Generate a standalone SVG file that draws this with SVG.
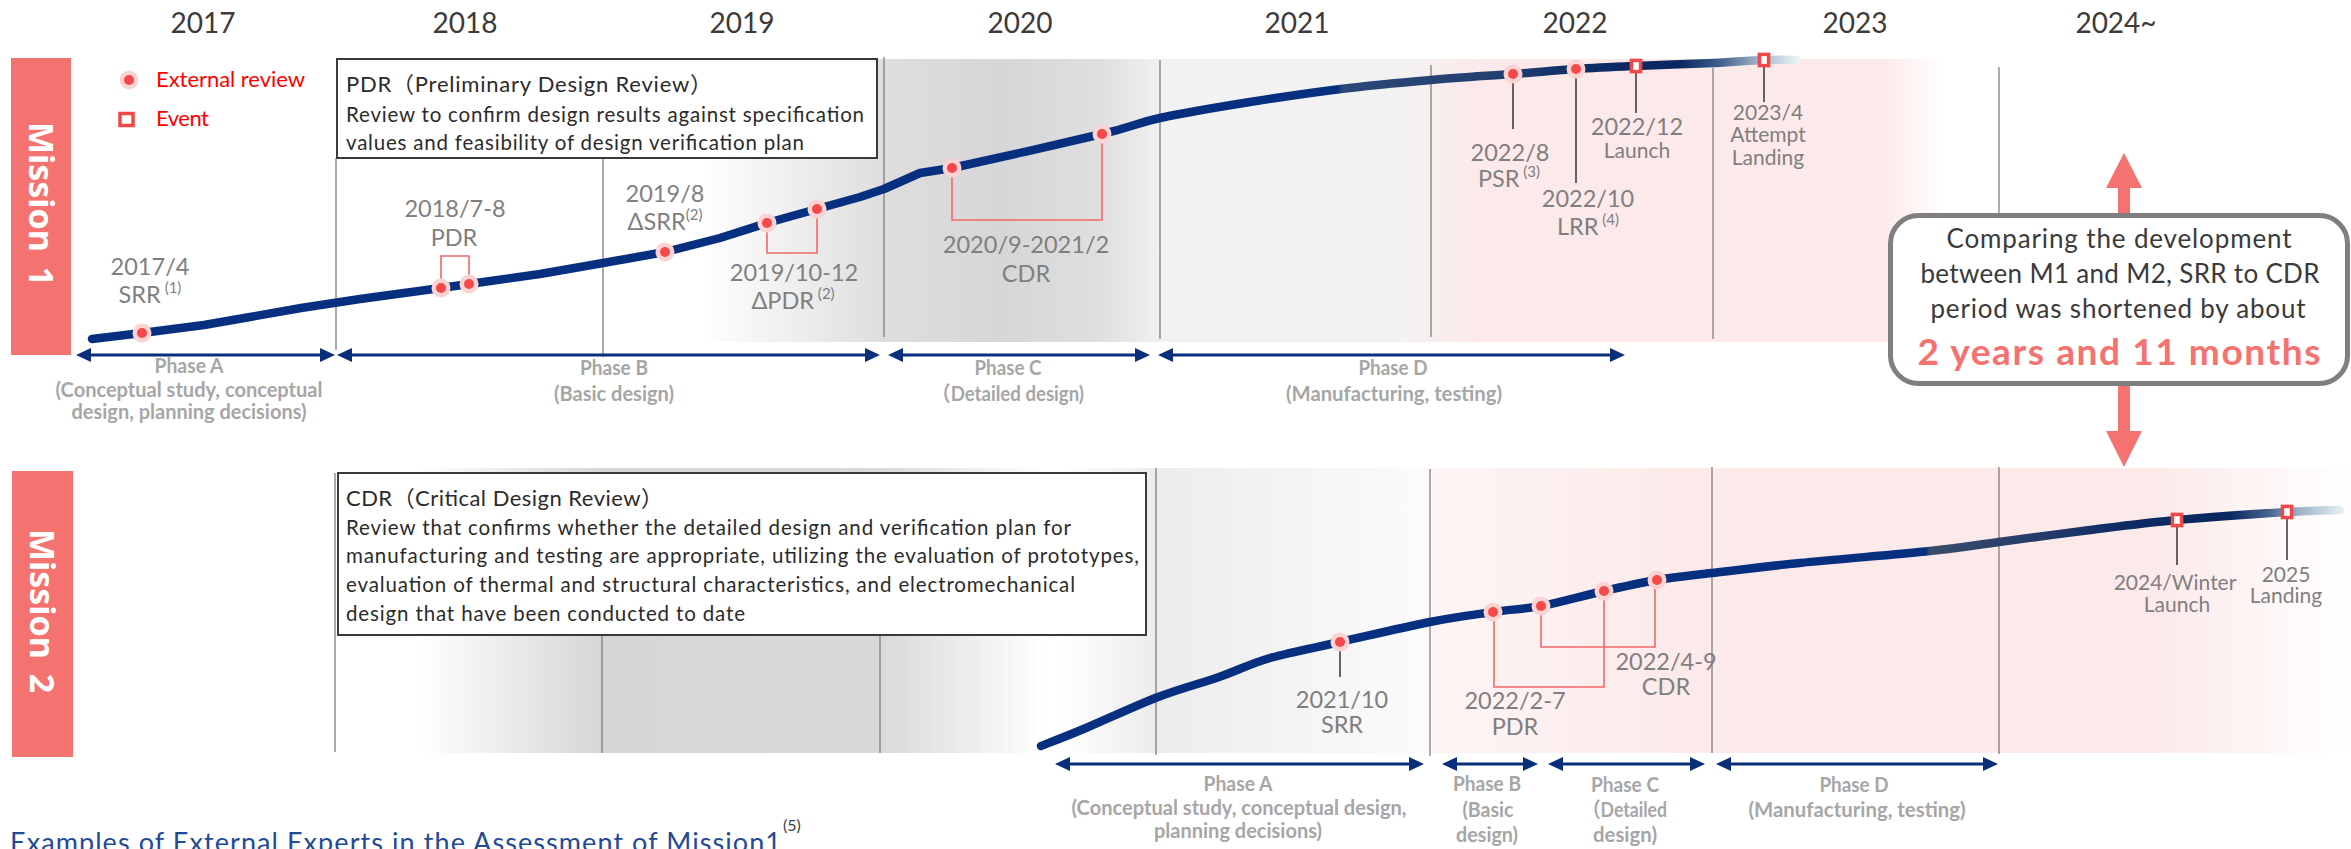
<svg xmlns="http://www.w3.org/2000/svg" width="2351" height="849" viewBox="0 0 2351 849">
<defs>
<style>
text{font-family:Lato,"Noto Sans","Noto Sans CJK JP",sans-serif}
.yr{font-size:28px;fill:#3d3a38;text-anchor:middle}
.mis{font-family:"Noto Sans",sans-serif;font-weight:700;font-size:34px;fill:#fff;text-anchor:middle}
.lg{font-size:22px;fill:#f00}
.bx{font-size:20.5px;fill:#2b2b2b}
.bxt{font-size:22px;fill:#2b2b2b}
.lbl{font-size:23.5px;fill:#7f7f7f;text-anchor:middle}
.lbs{font-size:21px;fill:#7f7f7f;text-anchor:middle}
.sup{font-size:15px}
.ph{font-size:20.5px;font-weight:700;fill:#a6a6a6;text-anchor:middle}
.cl{font-size:26px;fill:#3a3a3a;text-anchor:middle}
.big{font-size:37px;font-weight:700;fill:#f47370;text-anchor:middle}
.grid{stroke:#7f7f7f;stroke-width:1.3;fill:none}
.brk{stroke:#f26868;stroke-width:1.6;fill:none}
.ldr{stroke:#404040;stroke-width:1.6;fill:none}
.halo{fill:#fbd3d3}
.dot{fill:#f4484a}
.ev{fill:#fff;stroke:#f04848;stroke-width:3.5}
.pa{stroke:#0a2f7a;stroke-width:3;fill:none;marker-start:url(#ah);marker-end:url(#ah)}
.curve{fill:none;stroke-width:8.5;stroke-linecap:round;stroke-linejoin:round}
</style>
<marker id="ah" viewBox="0 0 15 14" refX="2" refY="7" markerWidth="15" markerHeight="14" markerUnits="userSpaceOnUse" orient="auto-start-reverse">
<path d="M0,0 L15,7 L0,14 z" fill="#0a2f7a"/>
</marker>
<linearGradient id="bg1" gradientUnits="userSpaceOnUse" x1="600" y1="0" x2="1945" y2="0">
<stop offset="0.0743" stop-color="#fff"/>
<stop offset="0.211" stop-color="#dedede"/>
<stop offset="0.297" stop-color="#d6d6d6"/>
<stop offset="0.372" stop-color="#dfdfdf"/>
<stop offset="0.413" stop-color="#efefef"/>
<stop offset="0.418" stop-color="#f2f2f2"/>
<stop offset="0.595" stop-color="#f3f2f2"/>
<stop offset="0.654" stop-color="#fce9e9"/>
<stop offset="0.952" stop-color="#fce9e9"/>
<stop offset="1" stop-color="#fff"/>
</linearGradient>
<linearGradient id="bg2" gradientUnits="userSpaceOnUse" x1="400" y1="0" x2="2351" y2="0">
<stop offset="0.0092" stop-color="#fff"/>
<stop offset="0.1035" stop-color="#d6d6d6"/>
<stop offset="0.246" stop-color="#d9d9d9"/>
<stop offset="0.3306" stop-color="#fff"/>
<stop offset="0.338" stop-color="#fff"/>
<stop offset="0.3875" stop-color="#ececec"/>
<stop offset="0.41" stop-color="#efefef"/>
<stop offset="0.5228" stop-color="#fbfbfb"/>
<stop offset="0.529" stop-color="#fdf5f5"/>
<stop offset="0.666" stop-color="#fce9e9"/>
<stop offset="0.897" stop-color="#fce9e9"/>
<stop offset="1" stop-color="#fff"/>
</linearGradient>
<linearGradient id="c1" gradientUnits="userSpaceOnUse" x1="92" y1="0" x2="1800" y2="0">
<stop offset="0" stop-color="#06307f"/>
<stop offset="0.7295" stop-color="#06307f"/>
<stop offset="0.7318" stop-color="#2c4876"/>
<stop offset="0.824" stop-color="#233f70"/>
<stop offset="0.883" stop-color="#0c2a63"/>
<stop offset="0.9297" stop-color="#0a2860"/>
<stop offset="0.953" stop-color="#3f5d8c"/>
<stop offset="0.9766" stop-color="#a5b8cc"/>
<stop offset="1" stop-color="#eef5f5"/>
</linearGradient>
<linearGradient id="c2" gradientUnits="userSpaceOnUse" x1="1041" y1="0" x2="2345" y2="0">
<stop offset="0" stop-color="#06307f"/>
<stop offset="0.6787" stop-color="#06307f"/>
<stop offset="0.6817" stop-color="#3a4d6b"/>
<stop offset="0.7738" stop-color="#22396a"/>
<stop offset="0.835" stop-color="#0c2a63"/>
<stop offset="0.9118" stop-color="#0a2860"/>
<stop offset="0.9425" stop-color="#4a6590"/>
<stop offset="0.9655" stop-color="#9fb3c8"/>
<stop offset="1" stop-color="#e8f3f3"/>
</linearGradient>
</defs>

<rect width="2351" height="849" fill="#fff"/>

<!-- backgrounds -->
<g id="backgrounds">
<rect x="600" y="59" width="1345" height="283" fill="url(#bg1)"/>
<rect x="400" y="468" width="1951" height="285" fill="url(#bg2)"/>
</g>

<!-- year labels -->
<g id="years">
<text class="yr" x="203" y="33">2017</text>
<text class="yr" x="465" y="33">2018</text>
<text class="yr" x="742" y="33">2019</text>
<text class="yr" x="1020" y="33">2020</text>
<text class="yr" x="1297" y="33">2021</text>
<text class="yr" x="1575" y="33">2022</text>
<text class="yr" x="1855" y="33">2023</text>
<text class="yr" x="2116" y="33">2024~</text>
</g>

<!-- grid lines -->
<g id="grid">
<path class="grid" d="M336,158V350 M603,158V357 M884,57V337 M1160,60V339 M1431,65V337 M1713,68V339 M1999,67V300"/>
<path class="grid" d="M335,473V752 M602,635V753 M880,635V753 M1156,468V755 M1430,469V756 M1712,467V753 M1999,467V754"/>
</g>

<!-- mission bars -->
<g id="mission1">
<rect x="11" y="58" width="60" height="297" fill="#f47370"/>
<text class="mis" transform="translate(29,204) rotate(90)" word-spacing="6">Mission 1</text>
</g>
<g id="mission2">
<rect x="12" y="471" width="61" height="286" fill="#f47370"/>
<text class="mis" transform="translate(30,611) rotate(90)" word-spacing="6">Mission 2</text>
</g>

<!-- legend -->
<g id="legend">
<circle class="halo" cx="129" cy="80" r="9.5"/>
<circle class="dot" cx="129" cy="80" r="5"/>
<text class="lg" x="156" y="87" textLength="149">External review</text>
<rect class="ev" x="120" y="113.5" width="13" height="12"/>
<text class="lg" x="156" y="126" textLength="53">Event</text>
</g>

<!-- definition boxes -->
<g id="pdr-box">
<rect x="337" y="59" width="540" height="99" fill="#fff" stroke="#3a3a3a" stroke-width="2"/>
<text class="bxt" x="346" y="92" textLength="366">PDR（Preliminary Design Review）</text>
<text class="bx" x="346" y="122" textLength="518">Review to confirm design results against specification</text>
<text class="bx" x="346" y="150" textLength="458">values and feasibility of design verification plan</text>
</g>
<g id="cdr-box">
<rect x="338" y="473" width="808" height="162" fill="#fff" stroke="#3a3a3a" stroke-width="2"/>
<text class="bxt" x="346" y="506" textLength="317">CDR（Critical Design Review）</text>
<text class="bx" x="346" y="535" textLength="725">Review that confirms whether the detailed design and verification plan for</text>
<text class="bx" x="346" y="563" textLength="793">manufacturing and testing are appropriate, utilizing the evaluation of prototypes,</text>
<text class="bx" x="346" y="592" textLength="729">evaluation of thermal and structural characteristics, and electromechanical</text>
<text class="bx" x="346" y="621" textLength="399">design that have been conducted to date</text>
</g>

<!-- connectors: brackets, leaders, phase arrows -->
<g id="connectors">
<path class="brk" d="M441,288V256H469V284"/>
<path class="brk" d="M767,223V253H817V209"/>
<path class="brk" d="M952,168V220H1102V134"/>
<path class="brk" d="M1494,612V687H1604V591"/>
<path class="brk" d="M1541,606V647H1655V580"/>
<path class="ldr" d="M1513,74V129 M1576,69V183 M1636,66V113 M1764,60V102"/>
<path class="ldr" d="M1340,642V677 M2177,520V565 M2287,512V560"/>
<path class="pa" d="M89,355H322"/>
<path class="pa" d="M350,355H867"/>
<path class="pa" d="M901,355H1137"/>
<path class="pa" d="M1171,355H1612"/>
<path class="pa" d="M1068,764H1411"/>
<path class="pa" d="M1455,764H1525"/>
<path class="pa" d="M1561,764H1692"/>
<path class="pa" d="M1729,764H1985"/>
</g>

<!-- timelines -->
<g id="timeline1">
<path class="curve" stroke="url(#c1)" d="M92,339 L142,333 L204,325 L250,317 L301,308 L360,299 L441,288 L469,284 L540,274 L603,263 L665,252 L720,238 L767,223 L817,209 L860,197 L884,189 L920,173 L952,168 C982.3,161.5 1067.3,142.3 1102,134 C1136.7,125.7 1135.3,123.3 1160,118 C1184.7,112.7 1219.8,106.8 1250,102 C1280.2,97.2 1310.8,92.7 1341,89 C1371.2,85.3 1402.3,82.5 1431,80 C1459.7,77.5 1488.8,75.8 1513,74 C1537.2,72.2 1555.5,70.3 1576,69 C1596.5,67.7 1613,67 1636,66 C1659,65 1692.7,64 1714,63 C1735.3,62 1750.2,60.5 1764,60 C1777.8,59.5 1791.5,60 1797,60"/>
<g id="m1-dots">
<circle class="halo" cx="142" cy="333" r="9.5"/><circle class="dot" cx="142" cy="333" r="5"/>
<circle class="halo" cx="441" cy="288" r="9.5"/><circle class="dot" cx="441" cy="288" r="5"/>
<circle class="halo" cx="469" cy="284" r="9.5"/><circle class="dot" cx="469" cy="284" r="5"/>
<circle class="halo" cx="665" cy="252" r="9.5"/><circle class="dot" cx="665" cy="252" r="5"/>
<circle class="halo" cx="767" cy="223" r="9.5"/><circle class="dot" cx="767" cy="223" r="5"/>
<circle class="halo" cx="817" cy="209" r="9.5"/><circle class="dot" cx="817" cy="209" r="5"/>
<circle class="halo" cx="952" cy="168" r="9.5"/><circle class="dot" cx="952" cy="168" r="5"/>
<circle class="halo" cx="1102" cy="134" r="9.5"/><circle class="dot" cx="1102" cy="134" r="5"/>
<circle class="halo" cx="1513" cy="74" r="9.5"/><circle class="dot" cx="1513" cy="74" r="5"/>
<circle class="halo" cx="1576" cy="69" r="9.5"/><circle class="dot" cx="1576" cy="69" r="5"/>
<rect class="ev" x="1631.4" y="60.4" width="9.2" height="11.2"/>
<rect class="ev" x="1759.4" y="54.4" width="9.2" height="11.2"/>
</g>
</g>
<g id="timeline2">
<path class="curve" stroke="url(#c2)" d="M1041,746 C1048.5,743 1066.5,736.2 1086,728 C1105.5,719.8 1135.8,705.5 1158,697 C1180.2,688.5 1200.3,683.5 1219,677 C1237.7,670.5 1249.8,663.8 1270,658 C1290.2,652.2 1313.3,648 1340,642 C1366.7,636 1404.5,627 1430,622 C1455.5,617 1474.5,614.7 1493,612 C1511.5,609.3 1522.5,609.5 1541,606 C1559.5,602.5 1584.7,595.3 1604,591 C1623.3,586.7 1639,583 1657,580 C1675,577 1688.2,575.8 1712,573 C1735.8,570.2 1763.7,566.7 1800,563 C1836.3,559.3 1896.8,554.5 1930,551 C1963.2,547.5 1972.3,545.5 1999,542 C2025.7,538.5 2060.3,533.7 2090,530 C2119.7,526.3 2144.2,523 2177,520 C2209.8,517 2259.8,513.7 2287,512 C2314.2,510.3 2331.2,510.3 2340,510"/>
<g id="m2-dots">
<circle class="halo" cx="1340" cy="642" r="9.5"/><circle class="dot" cx="1340" cy="642" r="5"/>
<circle class="halo" cx="1493" cy="612" r="9.5"/><circle class="dot" cx="1493" cy="612" r="5"/>
<circle class="halo" cx="1541" cy="606" r="9.5"/><circle class="dot" cx="1541" cy="606" r="5"/>
<circle class="halo" cx="1604" cy="591" r="9.5"/><circle class="dot" cx="1604" cy="591" r="5"/>
<circle class="halo" cx="1657" cy="580" r="9.5"/><circle class="dot" cx="1657" cy="580" r="5"/>
<rect class="ev" x="2172.4" y="514.4" width="9.2" height="11.2"/>
<rect class="ev" x="2282.4" y="506.4" width="9.2" height="11.2"/>
</g>
</g>

<!-- milestone labels -->
<g id="labels1">
<text class="lbl" x="150" y="275">2017/4</text>
<text class="lbl" x="150" y="303">SRR<tspan class="sup" dy="-10"> (1)</tspan></text>
<text class="lbl" x="455" y="217">2018/7-8</text>
<text class="lbl" x="454" y="246">PDR</text>
<text class="lbl" x="665" y="202">2019/8</text>
<text class="lbl" x="665" y="230">ΔSRR<tspan class="sup" dy="-10">(2)</tspan></text>
<text class="lbl" x="794" y="281">2019/10-12</text>
<text class="lbl" x="793" y="309">ΔPDR<tspan class="sup" dy="-10"> (2)</tspan></text>
<text class="lbl" x="1026" y="253">2020/9-2021/2</text>
<text class="lbl" x="1026" y="282">CDR</text>
<text class="lbl" x="1510" y="161">2022/8</text>
<text class="lbl" x="1509" y="187">PSR<tspan class="sup" dy="-10"> (3)</tspan></text>
<text class="lbl" x="1588" y="207">2022/10</text>
<text class="lbl" x="1588" y="235">LRR<tspan class="sup" dy="-10"> (4)</tspan></text>
<text class="lbl" x="1637" y="135">2022/12</text>
<text class="lbs" x="1637" y="158">Launch</text>
<text class="lbs" x="1768" y="120">2023/4</text>
<text class="lbs" x="1768" y="142">Attempt</text>
<text class="lbs" x="1768" y="165">Landing</text>
</g>
<g id="labels2">
<text class="lbl" x="1342" y="708">2021/10</text>
<text class="lbl" x="1342" y="733">SRR</text>
<text class="lbl" x="1515" y="709">2022/2-7</text>
<text class="lbl" x="1515" y="735">PDR</text>
<text class="lbl" x="1666" y="670">2022/4-9</text>
<text class="lbl" x="1666" y="695">CDR</text>
<text class="lbs" x="2175" y="590">2024/Winter</text>
<text class="lbs" x="2177" y="612">Launch</text>
<text class="lbs" x="2286" y="582">2025</text>
<text class="lbs" x="2286" y="603">Landing</text>
</g>

<!-- phase labels -->
<g id="phases1">
<text class="ph" x="189" y="373" textLength="69" lengthAdjust="spacingAndGlyphs">Phase A</text>
<text class="ph" x="189" y="397" textLength="267" lengthAdjust="spacingAndGlyphs">(Conceptual study, conceptual</text>
<text class="ph" x="189" y="419" textLength="235" lengthAdjust="spacingAndGlyphs">design, planning decisions)</text>
<text class="ph" x="614" y="375" textLength="68" lengthAdjust="spacingAndGlyphs">Phase B</text>
<text class="ph" x="614" y="401" textLength="120" lengthAdjust="spacingAndGlyphs">(Basic design)</text>
<text class="ph" x="1008" y="375" textLength="67" lengthAdjust="spacingAndGlyphs">Phase C</text>
<text class="ph" x="1008" y="401" textLength="152" lengthAdjust="spacingAndGlyphs">（Detailed design)</text>
<text class="ph" x="1393" y="375" textLength="69" lengthAdjust="spacingAndGlyphs">Phase D</text>
<text class="ph" x="1394" y="401" textLength="216" lengthAdjust="spacingAndGlyphs">(Manufacturing, testing)</text>
</g>
<g id="phases2">
<text class="ph" x="1238" y="791" textLength="69" lengthAdjust="spacingAndGlyphs">Phase A</text>
<text class="ph" x="1239" y="815" textLength="335" lengthAdjust="spacingAndGlyphs">(Conceptual study, conceptual design,</text>
<text class="ph" x="1238" y="838" textLength="168" lengthAdjust="spacingAndGlyphs">planning decisions)</text>
<text class="ph" x="1487" y="791" textLength="68" lengthAdjust="spacingAndGlyphs">Phase B</text>
<text class="ph" x="1488" y="817" textLength="51" lengthAdjust="spacingAndGlyphs">(Basic</text>
<text class="ph" x="1487" y="842" textLength="62" lengthAdjust="spacingAndGlyphs">design)</text>
<text class="ph" x="1625" y="792" textLength="68" lengthAdjust="spacingAndGlyphs">Phase C</text>
<text class="ph" x="1625" y="817" textLength="84" lengthAdjust="spacingAndGlyphs">（Detailed</text>
<text class="ph" x="1625" y="842" textLength="64" lengthAdjust="spacingAndGlyphs">design)</text>
<text class="ph" x="1854" y="792" textLength="69" lengthAdjust="spacingAndGlyphs">Phase D</text>
<text class="ph" x="1857" y="817" textLength="217" lengthAdjust="spacingAndGlyphs">(Manufacturing, testing)</text>
</g>

<!-- comparison callout -->
<g id="callout">
<path d="M2118,213V188H2106L2124,153L2142,188H2130V213Z" fill="#f47370"/>
<path d="M2118,385V431H2106L2124,467L2142,431H2130V385Z" fill="#f47370"/>
<rect x="1890.5" y="215.5" width="457" height="168" rx="28" fill="#fff" stroke="#7f7f7f" stroke-width="5"/>
<text class="cl" x="2119" y="248" textLength="345">Comparing the development</text>
<text class="cl" x="2120" y="283" textLength="399">between M1 and M2, SRR to CDR</text>
<text class="cl" x="2118" y="318" textLength="375">period was shortened by about</text>
<text class="big" x="2119" y="365" textLength="403">2 years and 11 months</text>
</g>

<!-- footer -->
<g id="footer">
<text x="10" y="852" font-size="27" fill="#234a96" textLength="771">Examples of External Experts in the Assessment of Mission1</text>
<text x="783" y="831" font-size="16" fill="#404040">(5)</text>
</g>
</svg>
